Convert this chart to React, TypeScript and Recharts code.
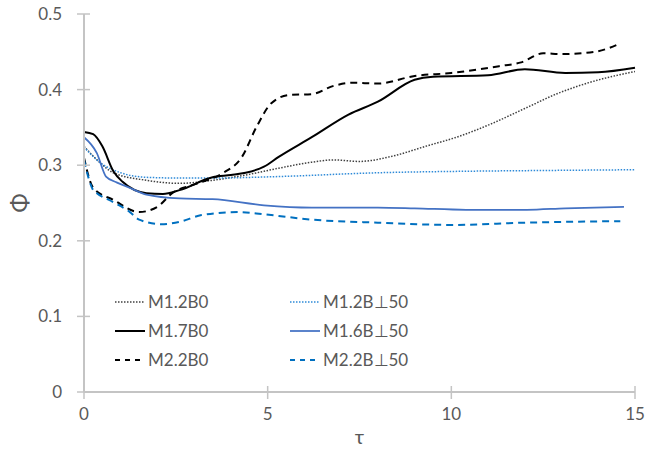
import React from "react";
import { LineChart, Line, XAxis, YAxis } from "recharts";

// τ / φ samples for each run
const m12b0Tau = [0, 0.4, 0.8, 1.7, 2.6, 3.5, 4.4, 5.3, 6.2, 6.8, 7.5, 8.4, 9.3, 10.2, 11.1, 12.0, 12.9, 13.8, 15.0];
const m12b0Phi = [0.325, 0.305, 0.29, 0.28, 0.276, 0.28, 0.287, 0.296, 0.304, 0.307, 0.305, 0.312, 0.325, 0.338, 0.355, 0.375, 0.395, 0.41, 0.424];

const m17b0Tau = [0, 0.25, 0.5, 0.8, 1.05, 1.7, 2.15, 2.6, 3.5, 4.0, 4.4, 4.9, 5.3, 6.2, 7.2, 8.0, 9.0, 9.5, 11.0, 12.0, 13.1, 14.0, 15.0];
const m17b0Phi = [0.344, 0.341, 0.325, 0.292, 0.278, 0.263, 0.262, 0.267, 0.284, 0.287, 0.29, 0.298, 0.311, 0.337, 0.367, 0.384, 0.413, 0.417, 0.419, 0.427, 0.422, 0.423, 0.429];

const m22b0Tau = [0, 0.25, 0.8, 1.5, 2.0, 2.4, 3.1, 3.8, 4.3, 4.7, 5.1, 5.6, 6.2, 6.8, 7.3, 8.0, 9.0, 10.0, 11.3, 11.9, 12.5, 13.0, 13.9, 14.6];
const m22b0Phi = [0.31, 0.27, 0.254, 0.238, 0.245, 0.263, 0.276, 0.29, 0.311, 0.351, 0.382, 0.393, 0.394, 0.405, 0.409, 0.408, 0.418, 0.422, 0.431, 0.436, 0.448, 0.447, 0.45, 0.461];

const m12b50Tau = [0, 0.45, 1.0, 1.7, 2.6, 3.5, 5.3, 8.0, 10.4, 12.5, 15.0];
const m12b50Phi = [0.324, 0.303, 0.29, 0.284, 0.283, 0.283, 0.285, 0.29, 0.292, 0.293, 0.294];

const m16b50Tau = [0, 0.35, 0.6, 0.9, 1.25, 1.7, 2.6, 3.5, 4.9, 6.2, 8.0, 9.0, 10.4, 12.05, 13.1, 14.7];
const m16b50Phi = [0.337, 0.316, 0.285, 0.277, 0.27, 0.261, 0.256, 0.255, 0.247, 0.244, 0.244, 0.243, 0.241, 0.241, 0.243, 0.245];

const m22b50Tau = [0, 0.25, 0.35, 0.8, 1.25, 1.5, 2.1, 2.6, 3.2, 4.2, 4.9, 6.2, 8.0, 10.0, 12.0, 14.6];
const m22b50Phi = [0.307, 0.267, 0.263, 0.251, 0.238, 0.228, 0.222, 0.225, 0.234, 0.238, 0.235, 0.228, 0.224, 0.221, 0.224, 0.226];

const xTicks = [0, 5, 10, 15];
const yTicks = [0, 0.1, 0.2, 0.3, 0.4, 0.5];

const toRows = (tau: number[], phi: number[]) => tau.map((t, i) => ({ t, phi: phi[i] }));

const series = [
  { name: "M1.2B0", data: toRows(m12b0Tau, m12b0Phi), color: "#404040", width: 1.5, dash: "1.5 1.5", key: "1.5 1.5" },
  { name: "M1.2B\u22A550", data: toRows(m12b50Tau, m12b50Phi), color: "#2E8AD8", width: 1.5, dash: "1.5 1.5", key: "1.5 1.5" },
  { name: "M1.7B0", data: toRows(m17b0Tau, m17b0Phi), color: "#000000", width: 2, dash: undefined, key: undefined },
  { name: "M1.6B\u22A550", data: toRows(m16b50Tau, m16b50Phi), color: "#4472C4", width: 1.75, dash: undefined, key: undefined },
  { name: "M2.2B0", data: toRows(m22b0Tau, m22b0Phi), color: "#000000", width: 2, dash: "7 5", key: "5 5" },
  { name: "M2.2B\u22A550", data: toRows(m22b50Tau, m22b50Phi), color: "#0070C0", width: 2, dash: "7 5", key: "5 5" },
];

const FONT = "Lato, 'Open Sans', sans-serif";
const AXIS = "#C4C4C4";
const TEXT = "#595959";
const TICK_GAP = 12;

const YTick = (props: any) => {
  const { x, y, payload } = props;
  const ax = x + TICK_GAP;
  return (
    <g>
      <line x1={ax - 7} x2={ax + 6} y1={y} y2={y} stroke={AXIS} strokeWidth={1.5} />
      <text x={x - 10} y={y} dy="0.35em" textAnchor="end" fill={TEXT} fontSize={17} fontFamily={FONT}>
        {payload.value === 0 ? "0" : payload.value.toFixed(1)}
      </text>
    </g>
  );
};

const XTick = (props: any) => {
  const { x, y, payload } = props;
  const ay = y - TICK_GAP;
  return (
    <g>
      <line x1={x} x2={x} y1={ay - 6} y2={ay + 7} stroke={AXIS} strokeWidth={1.5} />
      <text x={x} y={y + 10} dy="0.35em" textAnchor="middle" fill={TEXT} fontSize={17} fontFamily={FONT}>
        {payload.value}
      </text>
    </g>
  );
};

// rotated Φ, centred on the value axis
const PhiLabel = (props: any) => {
  const { viewBox } = props;
  const cx = viewBox.x - 4;
  const cy = viewBox.y + viewBox.height / 2;
  return (
    <text
      x={cx}
      y={cy}
      dy="0.35em"
      textAnchor="middle"
      transform={`rotate(-90, ${cx}, ${cy})`}
      fill={TEXT}
      fontSize={23}
      fontFamily={FONT}
    >
      {"\u03A6"}
    </text>
  );
};

// two-column key sitting inside the plot, lower left
const KeyOverlay = () => (
  <svg width={340} height={90} style={{ position: "absolute", left: 115, top: 290 }}>
    {series.map((s, i) => {
      const lx = (i % 2) * 175;
      const ly = 12 + Math.floor(i / 2) * 29;
      return (
        <g key={s.name}>
          <line x1={lx} x2={lx + 30} y1={ly} y2={ly} stroke={s.color} strokeWidth={s.width} strokeDasharray={s.key} />
          <text x={lx + 33} y={ly} dy="0.35em" fill={TEXT} fontSize={17} fontFamily={FONT}>
            {s.name}
          </text>
        </g>
      );
    })}
  </svg>
);

export default function App() {
  return (
    <div style={{ position: "absolute", left: 0, top: 0, width: 648, height: 449, background: "#fff" }}>
      <LineChart width={648} height={449} margin={{ top: 14, right: 13, left: 24, bottom: 27 }}>
        <XAxis
          type="number"
          dataKey="t"
          domain={[0, 15]}
          ticks={xTicks}
          allowDuplicatedCategory={false}
          stroke={AXIS}
          strokeWidth={2}
          tickLine={false}
          tickSize={0}
          tickMargin={TICK_GAP}
          tick={<XTick />}
          height={30}
          label={{ value: "\u03C4", position: "insideBottom", offset: -22, fill: TEXT, fontSize: 20, fontFamily: FONT }}
        />
        <YAxis
          type="number"
          domain={[0, 0.5]}
          ticks={yTicks}
          stroke={AXIS}
          strokeWidth={2}
          tickLine={false}
          tickSize={0}
          tickMargin={TICK_GAP}
          tick={<YTick />}
          width={60}
          label={{ content: <PhiLabel /> }}
        />
        {series.map((s) => (
          <Line
            key={s.name}
            data={s.data}
            dataKey="phi"
            name={s.name}
            type="monotone"
            stroke={s.color}
            strokeWidth={s.width}
            strokeDasharray={s.dash}
            dot={false}
            activeDot={false}
            isAnimationActive={false}
          />
        ))}
      </LineChart>
      <KeyOverlay />
    </div>
  );
}
